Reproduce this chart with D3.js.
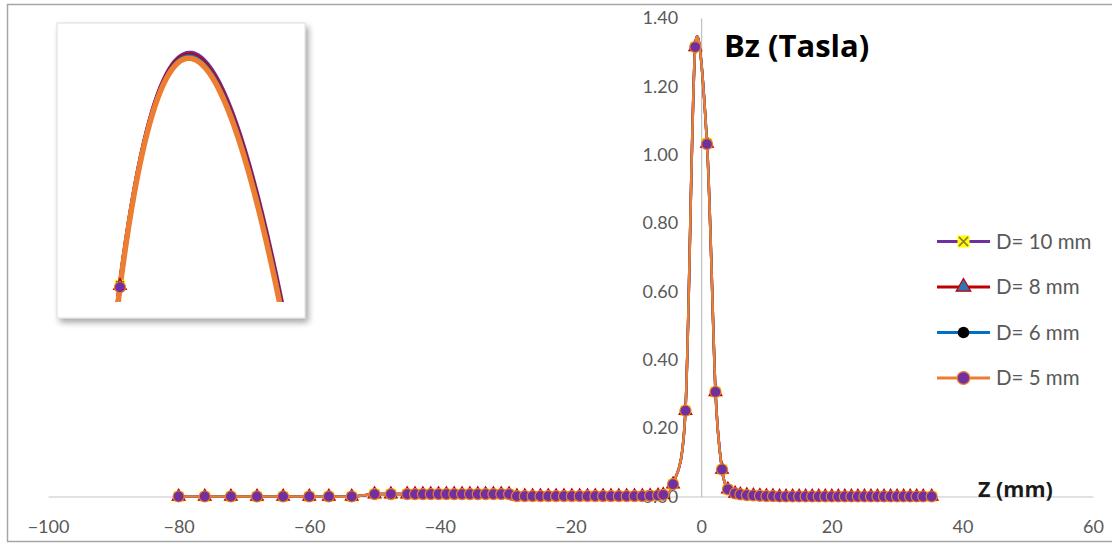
<!DOCTYPE html>
<html>
<head>
<meta charset="utf-8">
<script src="https://cdn.jsdelivr.net/npm/d3@7"></script>
<style>
  body { margin: 0; background: #fff; }
  svg { display: block; font-family: Lato, "Open Sans", sans-serif; }
</style>
</head>
<body>
<svg id="chart" width="1112" height="544"></svg>
<script>
// Z positions (mm) shared by every series
var zValues = [
  -80, -76, -72, -68, -64, -60, -57, -53.5, -50, -47.5,
  -45, -43.8, -42.6, -41.4, -40.2, -39, -37.8, -36.6, -35.4, -34.2, -33, -31.8, -30.6, -29.4,
  -28.2, -27, -25.8, -24.6, -23.4, -22.2, -21, -19.8, -18.6, -17.4, -16.2, -15, -13.8, -12.6, -11.4, -10.2, -9, -7.8, -6.6, -5.8,
  -4.3, -2.4, -0.9, 0.9, 2.2, 3.2, 4.1,
  5.2, 6, 7, 8, 9, 10, 11, 12, 13, 14, 15, 16, 17, 18, 19, 20, 21, 22, 23, 24, 25, 26, 27, 28, 29, 30, 31, 32, 33, 34, 35.3
];

// Bz (T) for each magnet diameter
var bzD10 = [
  0, 0, 0, 0, 0, 0, 0, 0, 0.007, 0.007,
  0.007, 0.007, 0.007, 0.007, 0.007, 0.007, 0.007, 0.007, 0.007, 0.007, 0.007, 0.007, 0.007, 0.007,
  0.001, 0.001, 0.001, 0.001, 0.001, 0.001, 0.001, 0.001, 0.001, 0.001, 0.001, 0.001, 0.001, 0.001, 0.001, 0.001, 0.001, 0.002, 0.003, 0.005,
  0.036, 0.251, 1.3153, 1.034, 0.306, 0.079, 0.021,
  0.009, 0.006, 0.004, 0.003, 0.002, 0.001, 0.001, 0, 0, 0, 0, 0, 0, 0, 0, 0, 0, 0, 0, 0, 0, 0, 0, 0, 0, 0, 0, 0, 0, 0, 0
];
var bzD8 = [
  0, 0, 0, 0, 0, 0, 0, 0, 0.007, 0.007,
  0.007, 0.007, 0.007, 0.007, 0.007, 0.007, 0.007, 0.007, 0.007, 0.007, 0.007, 0.007, 0.007, 0.007,
  0.001, 0.001, 0.001, 0.001, 0.001, 0.001, 0.001, 0.001, 0.001, 0.001, 0.001, 0.001, 0.001, 0.001, 0.001, 0.001, 0.001, 0.002, 0.003, 0.005,
  0.036, 0.251, 1.3152, 1.033, 0.306, 0.079, 0.021,
  0.009, 0.006, 0.004, 0.003, 0.002, 0.001, 0.001, 0, 0, 0, 0, 0, 0, 0, 0, 0, 0, 0, 0, 0, 0, 0, 0, 0, 0, 0, 0, 0, 0, 0, 0
];
var bzD6 = [
  0, 0, 0, 0, 0, 0, 0, 0, 0.007, 0.007,
  0.007, 0.007, 0.007, 0.007, 0.007, 0.007, 0.007, 0.007, 0.007, 0.007, 0.007, 0.007, 0.007, 0.007,
  0.001, 0.001, 0.001, 0.001, 0.001, 0.001, 0.001, 0.001, 0.001, 0.001, 0.001, 0.001, 0.001, 0.001, 0.001, 0.001, 0.001, 0.002, 0.003, 0.005,
  0.036, 0.251, 1.3151, 1.032, 0.306, 0.079, 0.021,
  0.009, 0.006, 0.004, 0.003, 0.002, 0.001, 0.001, 0, 0, 0, 0, 0, 0, 0, 0, 0, 0, 0, 0, 0, 0, 0, 0, 0, 0, 0, 0, 0, 0, 0, 0
];
var bzD5 = [
  0, 0, 0, 0, 0, 0, 0, 0, 0.007, 0.007,
  0.007, 0.007, 0.007, 0.007, 0.007, 0.007, 0.007, 0.007, 0.007, 0.007, 0.007, 0.007, 0.007, 0.007,
  0.001, 0.001, 0.001, 0.001, 0.001, 0.001, 0.001, 0.001, 0.001, 0.001, 0.001, 0.001, 0.001, 0.001, 0.001, 0.001, 0.001, 0.002, 0.003, 0.005,
  0.036, 0.251, 1.315, 1.031, 0.306, 0.079, 0.021,
  0.009, 0.006, 0.004, 0.003, 0.002, 0.001, 0.001, 0, 0, 0, 0, 0, 0, 0, 0, 0, 0, 0, 0, 0, 0, 0, 0, 0, 0, 0, 0, 0, 0, 0, 0
];

var seriesNames = ["D= 10 mm", "D= 8 mm", "D= 6 mm", "D= 5 mm"];
var seriesValues = [bzD10, bzD8, bzD6, bzD5];
var xTicks = [-100, -80, -60, -40, -20, 0, 20, 40, 60];
var yTicks = [0, 0.2, 0.4, 0.6, 0.8, 1.0, 1.2, 1.4];

var lineColors = ["#7030a0", "#c00000", "#0070c0", "#ed7d31"];
var textColor = "#595959";

var svg = d3.select("#chart");

var x = d3.scaleLinear().domain([-100, 60]).range([48, 1093]);
var y = d3.scaleLinear().domain([0, 1.4]).range([496.5, 18]);

var series = seriesValues.map(function(vals, i) {
  return {
    name: seriesNames[i],
    idx: i,
    points: zValues.map(function(z, k) { return {z: z, v: vals[k]}; })
  };
});

// chart frame
svg.append("rect")
  .attr("x", 7.5).attr("y", 4.5)
  .attr("width", 1130).attr("height", 537)
  .attr("fill", "none")
  .attr("stroke", "#a6a6a6")
  .attr("stroke-width", 1.5);

// axes
var xAxis = svg.append("g")
  .attr("transform", "translate(0," + y(0) + ")")
  .call(d3.axisBottom(x).tickValues(xTicks).tickSize(0).tickPadding(24).tickFormat(d3.format("d")));
xAxis.select(".domain").attr("stroke", "#d9d9d9").attr("stroke-width", 1.5);
xAxis.selectAll("text").attr("fill", textColor).style("font-size", "18px").style("font-family", "Lato, sans-serif");

var yAxis = svg.append("g")
  .attr("transform", "translate(" + x(0) + ",0)")
  .call(d3.axisLeft(y).tickValues(yTicks).tickSize(0).tickPadding(23).tickFormat(d3.format(".2f")));
yAxis.select(".domain").attr("stroke", "#bfbfbf").attr("stroke-width", 1.2);
yAxis.selectAll("text").attr("fill", textColor).style("font-size", "18px").style("font-family", "Lato, sans-serif");

// marker glyphs
function markerShape(sel, i, k) {
  k = k || 1;
  if (i === 0) {
    sel.append("path").attr("d", d3.symbol(d3.symbolSquare, 110 * k * k)()).attr("fill", "#ffff00");
    sel.append("path").attr("d", "M-4,-4L4,4M-4,4L4,-4")
      .attr("transform", "scale(" + k + ")")
      .attr("stroke", "#8c7b3a").attr("stroke-width", 1.5 / k).attr("fill", "none");
  } else if (i === 1) {
    sel.append("path").attr("d", d3.symbol(d3.symbolTriangle, 70 * k * k)())
      .attr("fill", "#2e75b6").attr("stroke", "#c00000").attr("stroke-width", 1.2);
  } else if (i === 2) {
    sel.append("path").attr("d", d3.symbol(d3.symbolCircle, 80 * k * k)()).attr("fill", "#000");
  } else {
    sel.append("path").attr("d", d3.symbol(d3.symbolCircle, 95 * k * k)())
      .attr("fill", "#7030a0").attr("stroke", "#ed7d31").attr("stroke-width", 1.2);
  }
}

// Excel-like smoothed line
var line = d3.line()
  .x(function(d) { return x(d.z); })
  .y(function(d) { return y(d.v); })
  .curve(d3.curveCardinal.tension(0.1));

var plot = svg.append("g");
var paths = [];
series.forEach(function(s) {
  var p = plot.append("path")
    .attr("d", line(s.points))
    .attr("fill", "none")
    .attr("stroke", lineColors[s.idx])
    .attr("stroke-width", 2.5)
    .attr("stroke-linejoin", "round");
  paths.push(p);
  var m = plot.selectAll(null).data(s.points).enter().append("g")
    .attr("transform", function(d) { return "translate(" + x(d.z) + "," + y(d.v) + ")"; });
  markerShape(m, s.idx);
});

// title & axis name
svg.append("text")
  .attr("x", 724).attr("y", 57)
  .style("font-family", "'Open Sans', sans-serif")
  .attr("font-size", 31).attr("font-weight", "bold").attr("fill", "#000")
  .text("Bz (Tasla)");
svg.append("text")
  .attr("x", 978).attr("y", 497)
  .style("font-family", "'Open Sans', sans-serif")
  .attr("font-size", 21.5).attr("font-weight", "bold").attr("fill", "#1a1a1a")
  .text("Z (mm)");

// legend
var legend = svg.append("g");
series.forEach(function(s, i) {
  var ly = 241.5 + i * 45.5;
  legend.append("line")
    .attr("x1", 937).attr("x2", 990).attr("y1", ly).attr("y2", ly)
    .attr("stroke", lineColors[i]).attr("stroke-width", 3);
  var m = legend.append("g").attr("transform", "translate(963.5," + ly + ")");
  markerShape(m, i, 1.15);
  legend.append("text")
    .attr("x", 996).attr("y", ly).attr("dy", "0.35em")
    .attr("font-size", 20.5).attr("fill", textColor)
    .text(s.name);
});

// inset: magnified peak
var defs = svg.append("defs");
var shadow = defs.append("filter").attr("id", "shadow")
  .attr("x", "-10%").attr("y", "-10%").attr("width", "130%").attr("height", "130%");
shadow.append("feDropShadow").attr("dx", 3).attr("dy", 4).attr("stdDeviation", 3)
  .attr("flood-color", "#000").attr("flood-opacity", 0.35);
defs.append("clipPath").attr("id", "insetClip")
  .append("rect").attr("x", 60).attr("y", 26).attr("width", 242).attr("height", 276);

svg.append("rect")
  .attr("x", 57).attr("y", 23).attr("width", 248).attr("height", 295)
  .attr("fill", "#fff").attr("stroke", "#dcdcdc")
  .attr("filter", "url(#shadow)");

// find the top of the smoothed curve near the peak to scale the inset
var peakIdx = zValues.indexOf(-0.9);
var mx = x(zValues[peakIdx]), my = y(bzD10[peakIdx]);
var topNode = paths[0].node();
var total = topNode.getTotalLength();
var peak = {x: mx, y: my};
for (var l = 0; l < total; l += 0.1) {
  var pt = topNode.getPointAtLength(l);
  if (Math.abs(pt.x - mx) < 12 && pt.y < peak.y) peak = {x: pt.x, y: pt.y};
}
var dxp = Math.max(peak.x - mx, 0.5), dyp = Math.min(peak.y - my, -1);
var kx = (186 - 120) / dxp * 1.08;
var ky = (53 - 285) / dyp;
var tx = 120 - kx * mx, ty = 285 - ky * my;

var inset = svg.append("g").attr("clip-path", "url(#insetClip)");
var insetLines = inset.append("g")
  .attr("transform", "translate(" + tx + "," + ty + ") scale(" + kx + "," + ky + ")");
series.forEach(function(s) {
  insetLines.append("path")
    .attr("d", line(s.points))
    .attr("fill", "none")
    .attr("stroke", lineColors[s.idx])
    .attr("stroke-width", s.idx === 3 ? 5.5 : 4.5)
    .attr("vector-effect", "non-scaling-stroke");
});
series.forEach(function(s) {
  var m = inset.selectAll(null).data(s.points).enter().append("g")
    .attr("transform", function(d) {
      return "translate(" + (tx + kx * x(d.z)) + "," + (ty + ky * y(d.v)) + ")";
    });
  markerShape(m, s.idx);
});
</script>
</body>
</html>
